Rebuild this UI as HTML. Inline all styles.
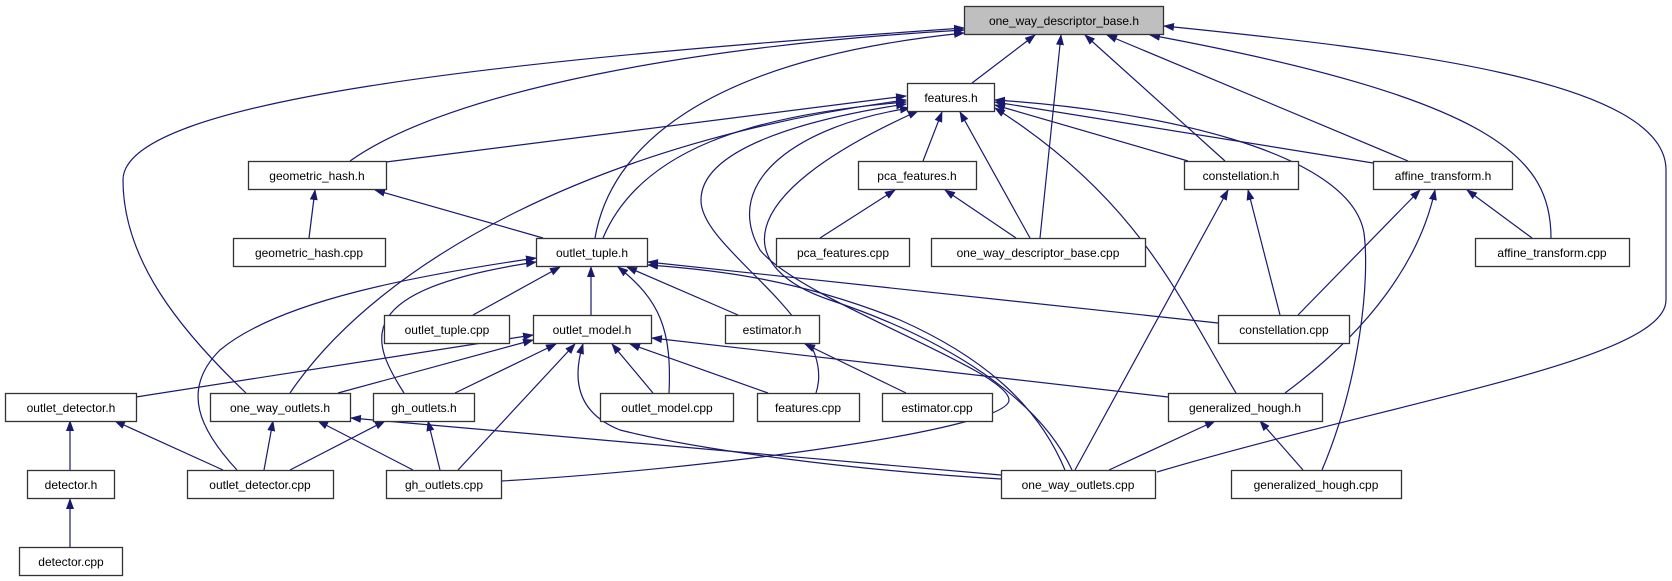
<!DOCTYPE html>
<html><head><meta charset="utf-8"><style>
html,body{margin:0;padding:0;background:#fff}
svg{display:block}
text{font-family:"Liberation Sans",sans-serif;font-size:12px;fill:#000}
</style></head><body>
<svg width="1672" height="581" viewBox="0 0 1672 581" xmlns="http://www.w3.org/2000/svg">
<defs>
<marker id="ah" markerWidth="11" markerHeight="8" refX="10" refY="4" orient="auto" markerUnits="userSpaceOnUse">
<path d="M0,0 L11,4 L0,8 Z" fill="#191970"/>
</marker>
</defs>
<g fill="none" stroke="#191970" stroke-width="1.2" marker-end="url(#ah)">
<!-- to one_way_descriptor_base.h -->
<path d="M246,393 C180,330 123,260 123,180 C123,100 500,60 964,28"/>
<path d="M350,161 C450,90 700,45 964,30"/>
<path d="M595,238 C610,150 700,60 964,33"/>
<path d="M972,83 L1035,35"/>
<path d="M1040,238 L1061,35"/>
<path d="M1225,161 L1085,35"/>
<path d="M1408,161 L1107,35"/>
<path d="M1551,238 C1551,160 1500,100 1150,35"/>
<path d="M1157,472 C1400,400 1666,360 1666,300 L1666,170 C1666,80 1400,50 1164,26"/>
<!-- to features.h -->
<path d="M386,162 L906,96"/>
<path d="M290,393 C380,260 600,140 906,100"/>
<path d="M603,238 C640,150 750,115 906,102"/>
<path d="M816,393 C840,320 700,250 701,200 C701,150 800,120 906,104"/>
<path d="M501,481 C700,470 1009,430 1009,400 C1009,370 800,300 760,250 C720,180 800,125 910,108"/>
<path d="M1072,470 C1040,400 950,340 830,300 C740,270 720,200 918,111"/>
<path d="M923,161 L942,112"/>
<path d="M1030,238 L960,112"/>
<path d="M1322,470 C1360,380 1370,280 1364,233 C1350,150 1150,110 995,100"/>
<path d="M1236,393 C1180,300 1140,200 995,108"/>
<path d="M1188,161 L995,105"/>
<path d="M1373,163 L995,102"/>
<!-- geometric_hash.h -->
<path d="M309,238 L315,190"/>
<path d="M543,238 L375,190"/>
<!-- pca_features.h -->
<path d="M820,238 L895,190"/>
<path d="M1016,238 L945,190"/>
<!-- constellation.h -->
<path d="M1075,470 L1228,190"/>
<path d="M1280,315 L1248,190"/>
<!-- affine_transform.h -->
<path d="M1298,315 L1420,190"/>
<path d="M1285,393 C1370,330 1420,260 1435,190"/>
<path d="M1532,238 L1467,190"/>
<!-- outlet_tuple.h -->
<path d="M237,470 C200,430 180,390 220,350 C280,300 420,275 536,258"/>
<path d="M404,393 C370,340 350,290 536,262"/>
<path d="M473,315 L560,267"/>
<path d="M591,315 L591,267"/>
<path d="M669,393 C672,330 660,300 618,267"/>
<path d="M738,315 L627,267"/>
<path d="M1218,323 L648,262"/>
<path d="M1065,470 C1040,410 990,360 900,320 C800,280 720,270 648,265"/>
<!-- outlet_model.h -->
<path d="M136,397 L533,335"/>
<path d="M338,393 L533,340"/>
<path d="M455,393 L556,344"/>
<path d="M458,470 L575,344"/>
<path d="M1001,479 C850,470 700,450 620,430 C570,410 575,370 583,344"/>
<path d="M653,393 L612,344"/>
<path d="M768,393 L630,344"/>
<path d="M1168,397 L652,338"/>
<!-- estimator.h -->
<path d="M906,393 L805,344"/>
<!-- outlet_detector.h -->
<path d="M70,470 L70,421"/>
<path d="M223,470 L115,421"/>
<!-- one_way_outlets.h -->
<path d="M264,470 L273,421"/>
<path d="M413,470 L318,421"/>
<path d="M1001,475 L351,418"/>
<!-- gh_outlets.h -->
<path d="M290,470 L385,421"/>
<path d="M440,470 L428,421"/>
<!-- generalized_hough.h -->
<path d="M1109,470 L1215,421"/>
<path d="M1303,470 L1260,421"/>
<!-- detector.h -->
<path d="M70,547 L70,499"/>
</g>
<g stroke="#333" stroke-width="1.3" fill="#fff">
<rect x="964.5" y="6.5" width="199" height="28" fill="#bfbfbf"/>
<rect x="907.5" y="83.5" width="87" height="28"/>
<rect x="248.5" y="161.5" width="138" height="28"/>
<rect x="858.5" y="161.5" width="118" height="28"/>
<rect x="1184.5" y="161.5" width="114" height="28"/>
<rect x="1373.5" y="161.5" width="139" height="28"/>
<rect x="233.5" y="238.5" width="152" height="28"/>
<rect x="536.5" y="238.5" width="111" height="28"/>
<rect x="776.5" y="238.5" width="133" height="28"/>
<rect x="931.5" y="238.5" width="214" height="28"/>
<rect x="1475.5" y="238.5" width="154" height="28"/>
<rect x="384.5" y="315.5" width="125" height="28"/>
<rect x="533.5" y="315.5" width="118" height="28"/>
<rect x="725.5" y="315.5" width="94" height="28"/>
<rect x="1218.5" y="315.5" width="131" height="28"/>
<rect x="5.5" y="393.5" width="131" height="28"/>
<rect x="210.5" y="393.5" width="140" height="28"/>
<rect x="373.5" y="393.5" width="101" height="28"/>
<rect x="600.5" y="393.5" width="133" height="28"/>
<rect x="757.5" y="393.5" width="102" height="28"/>
<rect x="882.5" y="393.5" width="110" height="28"/>
<rect x="1168.5" y="393.5" width="154" height="28"/>
<rect x="27.5" y="470.5" width="87" height="28"/>
<rect x="187.5" y="470.5" width="146" height="28"/>
<rect x="386.5" y="470.5" width="115" height="28"/>
<rect x="1001.5" y="470.5" width="154" height="28"/>
<rect x="1231.5" y="470.5" width="170" height="28"/>
<rect x="19.5" y="547.5" width="103" height="28"/>
</g>
<g text-anchor="middle">
<text x="1064" y="25">one_way_descriptor_base.h</text>
<text x="951" y="102">features.h</text>
<text x="317" y="180">geometric_hash.h</text>
<text x="917" y="180">pca_features.h</text>
<text x="1241" y="180">constellation.h</text>
<text x="1443" y="180">affine_transform.h</text>
<text x="309" y="257">geometric_hash.cpp</text>
<text x="592" y="257">outlet_tuple.h</text>
<text x="843" y="257">pca_features.cpp</text>
<text x="1038" y="257">one_way_descriptor_base.cpp</text>
<text x="1552" y="257">affine_transform.cpp</text>
<text x="447" y="334">outlet_tuple.cpp</text>
<text x="592" y="334">outlet_model.h</text>
<text x="772" y="334">estimator.h</text>
<text x="1284" y="334">constellation.cpp</text>
<text x="71" y="412">outlet_detector.h</text>
<text x="280" y="412">one_way_outlets.h</text>
<text x="424" y="412">gh_outlets.h</text>
<text x="667" y="412">outlet_model.cpp</text>
<text x="808" y="412">features.cpp</text>
<text x="937" y="412">estimator.cpp</text>
<text x="1245" y="412">generalized_hough.h</text>
<text x="71" y="489">detector.h</text>
<text x="260" y="489">outlet_detector.cpp</text>
<text x="444" y="489">gh_outlets.cpp</text>
<text x="1078" y="489">one_way_outlets.cpp</text>
<text x="1316" y="489">generalized_hough.cpp</text>
<text x="71" y="566">detector.cpp</text>
</g>
</svg>
</body></html>
